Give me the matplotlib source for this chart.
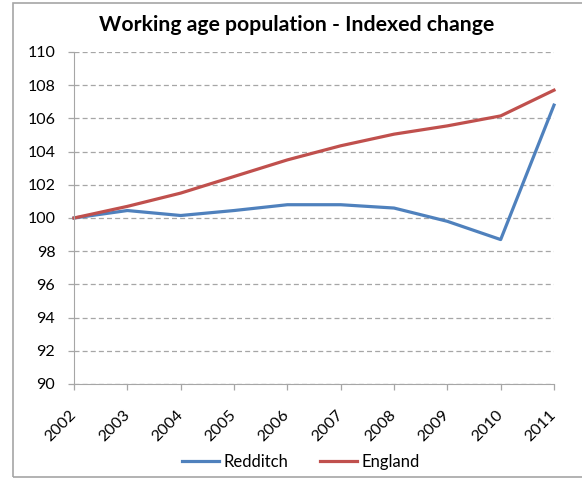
import matplotlib
matplotlib.use("Agg")
import matplotlib.pyplot as plt
from matplotlib.patches import Rectangle

# Working age population, indexed to 2002 = 100
years = [2002, 2003, 2004, 2005, 2006, 2007, 2008, 2009, 2010, 2011]
redditch = [100.0, 100.45, 100.15, 100.45, 100.8, 100.8, 100.6, 99.8, 98.7, 106.8]
england = [100.0, 100.7, 101.5, 102.5, 103.5, 104.35, 105.05, 105.55, 106.15, 107.7]
y_ticks = list(range(90, 111, 2))

plt.rcParams["font.family"] = ["Lato", "DejaVu Sans"]

W, H = 582, 479
fig = plt.figure(figsize=(W / 100, H / 100), dpi=100)
ax = fig.add_axes([74 / W, 1 - 384 / H, 480 / W, 332 / H])

ax.plot(years, redditch, color="#4F81BD", linewidth=2.3, label="Redditch", clip_on=False)
ax.plot(years, england, color="#C0504D", linewidth=2.3, label="England", clip_on=False)

ax.set_xlim(2002, 2011)
ax.set_ylim(90, 110)
ax.set_xticks(years)
ax.set_xticklabels([str(y) for y in years], rotation=45, ha="right", va="center",
                   rotation_mode="anchor", fontsize=11.5)
ax.set_yticks(y_ticks)
ax.set_yticklabels([str(v) for v in y_ticks], fontsize=11.5)

ax.yaxis.grid(True, linestyle=(0, (4, 2.5)), color="#A6A6A6", linewidth=0.9)
ax.set_axisbelow(True)
for side in ["top", "right"]:
    ax.spines[side].set_visible(False)
for side in ["left", "bottom"]:
    ax.spines[side].set_color("#A6A6A6")
ax.tick_params(axis="both", colors="#A6A6A6", labelcolor="black", length=4.5, width=0.9)
ax.tick_params(axis="y", pad=9)
ax.tick_params(axis="x", pad=16)

fig.text(0.51, 1 - 25 / H, "Working age population - Indexed change", fontsize=15.3,
         fontweight="bold", ha="center", va="center")

fig.legend(handles=ax.get_lines(), loc="center", bbox_to_anchor=(301 / W, 1 - 462 / H),
           ncol=2, frameon=False, fontsize=12, handlelength=2.2,
           columnspacing=1.9, handletextpad=0.3)

# outer chart border
fig.patches.append(Rectangle((13 / W, 1 - 477 / H), 575 / W, 474 / H,
                             transform=fig.transFigure, fill=False,
                             edgecolor="#A6A6A6", linewidth=1.2))

fig.savefig("out.png", dpi=100)
